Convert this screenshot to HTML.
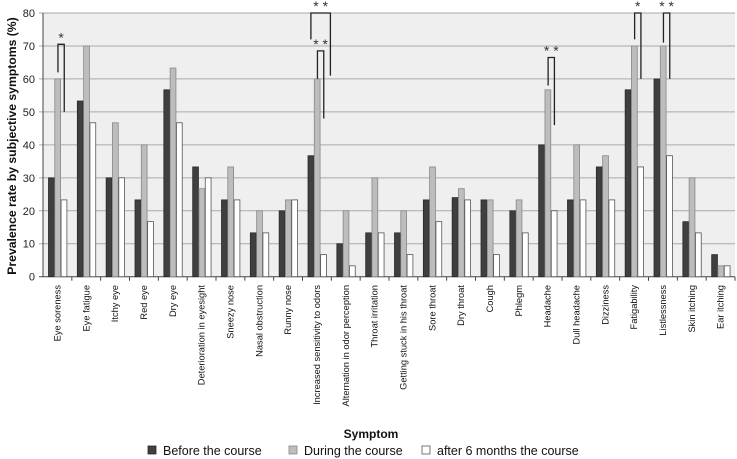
<!DOCTYPE html>
<html><head><meta charset="utf-8"><style>
body{margin:0;background:#fff;}
svg{display:block;font-family:"Liberation Sans",sans-serif;}
</style></head><body>
<svg id="chart" width="737" height="459" viewBox="0 0 737 459"></svg>
<script>
const categories=["Eye soreness","Eye fatigue","Itchy eye","Red eye","Dry eye","Deterioration in eyesight","Sneezy nose","Nasal obstruction","Runny nose","Increased sensitivity to odors","Alternation in odor perception","Throat irritation","Getting stuck in his throat","Sore throat","Dry throat","Cough","Phlegm","Headache","Dull headache","Dizziness","Fatigability","Listlessness","Skin itching","Ear itching"];
const beforeVals=[30,53.3,30,23.3,56.7,33.3,23.3,13.3,20,36.7,10,13.3,13.3,23.3,24,23.3,20,40,23.3,33.3,56.7,60,16.7,6.7];
const duringVals=[60,70,46.7,40,63.3,26.7,33.3,20,23.3,60,20,30,20,33.3,26.7,23.3,23.3,56.7,40,36.7,70,70,30,3.3];
const afterVals=[23.3,46.7,30,16.7,46.7,30,23.3,13.3,23.3,6.7,3.3,13.3,6.7,16.7,23.3,6.7,13.3,20,23.3,23.3,33.3,36.7,13.3,3.3];
const yTicks=[0,10,20,30,40,50,60,70,80];
const sigCats=[0,9,9,17,20,21];
const sigTops=[70.5,68.5,80,66.5,80,80];
const sigLeft=[62,60,72,58,72,71];
const sigRight=[50,48,61,46,60,60];
const sigStars=["*","**","**","**","*","**"];
const sigOuter=[0,0,1,0,0,0];

const svg=document.getElementById('chart');
const NS='http://www.w3.org/2000/svg';
const X0=43,X1=735,Y0=276.7,Y80=13;
const cw=(X1-X0)/categories.length;
const y=v=>Y0-(Y0-Y80)*v/80;
const x=i=>X0+i*cw;
function mk(t,a){const e=document.createElementNS(NS,t);for(const k in a)e.setAttribute(k,a[k]);svg.appendChild(e);return e;}

const bg=mk('rect',{x:X0,y:Y80,width:X1-X0,height:Y0-Y80,fill:'#efefef'});


yTicks.forEach(t=>{
  const g=mk('line',{x1:X0-4,x2:X1,y1:y(t),y2:y(t),stroke:t===0?'#444':'#aaa','stroke-width':1});
  
  
  const l=mk('text',{x:X0-8,y:y(t)+4,'text-anchor':'end','font-size':11,fill:'#222'});
  l.textContent=t;
  
  
});
const ax=mk('line',{x1:X0,x2:X0,y1:Y80,y2:Y0,stroke:'#444'});


const series=[[beforeVals,'#3f3f3f','#2a2a2a'],[duringVals,'#bdbdbd','#888'],[afterVals,'#ffffff','#555']];
categories.forEach((c,i)=>{
  const tk=mk('line',{x1:x(i+1),x2:x(i+1),y1:Y0,y2:Y0+4,stroke:'#444'});
  
  
  series.forEach((s,j)=>{
    const v=s[0][i];
    const r=mk('rect',{x:x(i)+5+j*6.3+0.5,y:y(v),width:5.8,height:Y0-y(v),fill:s[1],stroke:s[2],'stroke-width':0.8});
    
    
  });
  const cx=x(i)+cw/2+3;
  const t=mk('text',{x:cx,y:285,'font-size':9.3,fill:'#111','text-anchor':'end',transform:`rotate(-90 ${cx} 285)`});
  t.textContent=c;
  
  
});
sigCats.forEach((ci,k)=>{
  let lx=x(ci)+5+6.3*1.5+0.5, rx=x(ci)+5+6.3*2.5+0.5;
  if(sigOuter[k]){lx=x(ci)+5+3.4;rx=x(ci)+5+6.3*3+4;}
  const p=mk('path',{d:`M${lx},${y(sigLeft[k])}V${y(sigTops[k])}H${rx}V${y(sigRight[k])}`,fill:'none',stroke:'#222','stroke-width':1.3});
  
  
  const s=mk('text',{x:(lx+rx)/2,y:y(sigTops[k])-2,'text-anchor':'middle','font-size':14,fill:'#333'});
  s.textContent=sigStars[k].split('').join(' ');
  
  
});
const yt=mk('text',{x:16,y:146,'text-anchor':'middle','font-size':12.2,'font-weight':'bold',fill:'#111',transform:'rotate(-90 16 146)'});
yt.textContent='Prevalence rate by subjective symptoms (%)';


const xt=mk('text',{x:371,y:438,'text-anchor':'middle','font-size':12,'font-weight':'bold',fill:'#111'});
xt.textContent='Symptom';


const legendLabels=['Before the course','During the course','after 6 months the course'];
const legendX=[148,289,422];
legendLabels.forEach((l,j)=>{
  const r=mk('rect',{x:legendX[j],y:446,width:8,height:8,fill:series[j][1],stroke:series[j][2],'stroke-width':0.8});
  
  
  const t=mk('text',{x:legendX[j]+15,y:455,'font-size':12.5,fill:'#111'});
  t.textContent=l;
  
  
});
</script>
</body></html>
